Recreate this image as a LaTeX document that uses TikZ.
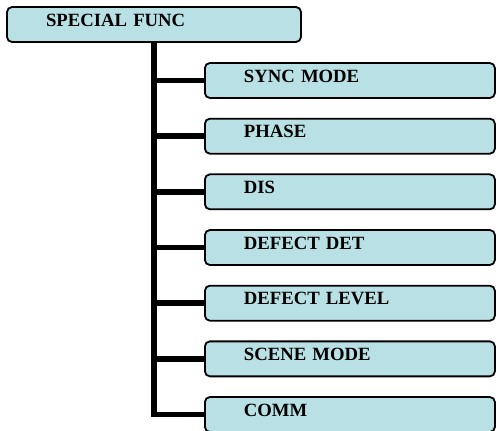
\documentclass[tikz,border=0pt]{standalone}
\usepackage{fontspec}
\setmainfont{Liberation Serif}
\usetikzlibrary{positioning}
\definecolor{menufill}{RGB}{185,224,228}

\begin{document}
\begin{tikzpicture}[x=1pt,y=-1pt,
  menu/.style={draw,fill=menufill,line width=1.8pt,rounded corners=5pt,
    text width=212pt,align=left,inner xsep=39pt,inner ysep=0pt,
    text height=19.3pt,text depth=15.7pt,
    font=\fontsize{18.7}{20}\selectfont\bfseries},
  branch/.style={line width=5.5pt,line join=miter}]
\useasboundingbox (0,0) rectangle (496,431);
\node[menu,text width=216pt] (func) at (154,24.5) {SPECIAL FUNC};

\foreach \name/\txt [count=\i from 0] in {sync/SYNC MODE,phase/PHASE,dis/DIS,%
    defdet/DEFECT DET,deflev/DEFECT LEVEL,scene/SCENE MODE,comm/COMM} {
  \node[menu,anchor=west] (\name) at (204,80.5+55.67*\i) {\txt};
  \draw[branch] (func.south |- \name.west) -- (\name.west);
  }
\draw[branch] (func.south) |- (comm.west);
\end{tikzpicture}
\end{document}
